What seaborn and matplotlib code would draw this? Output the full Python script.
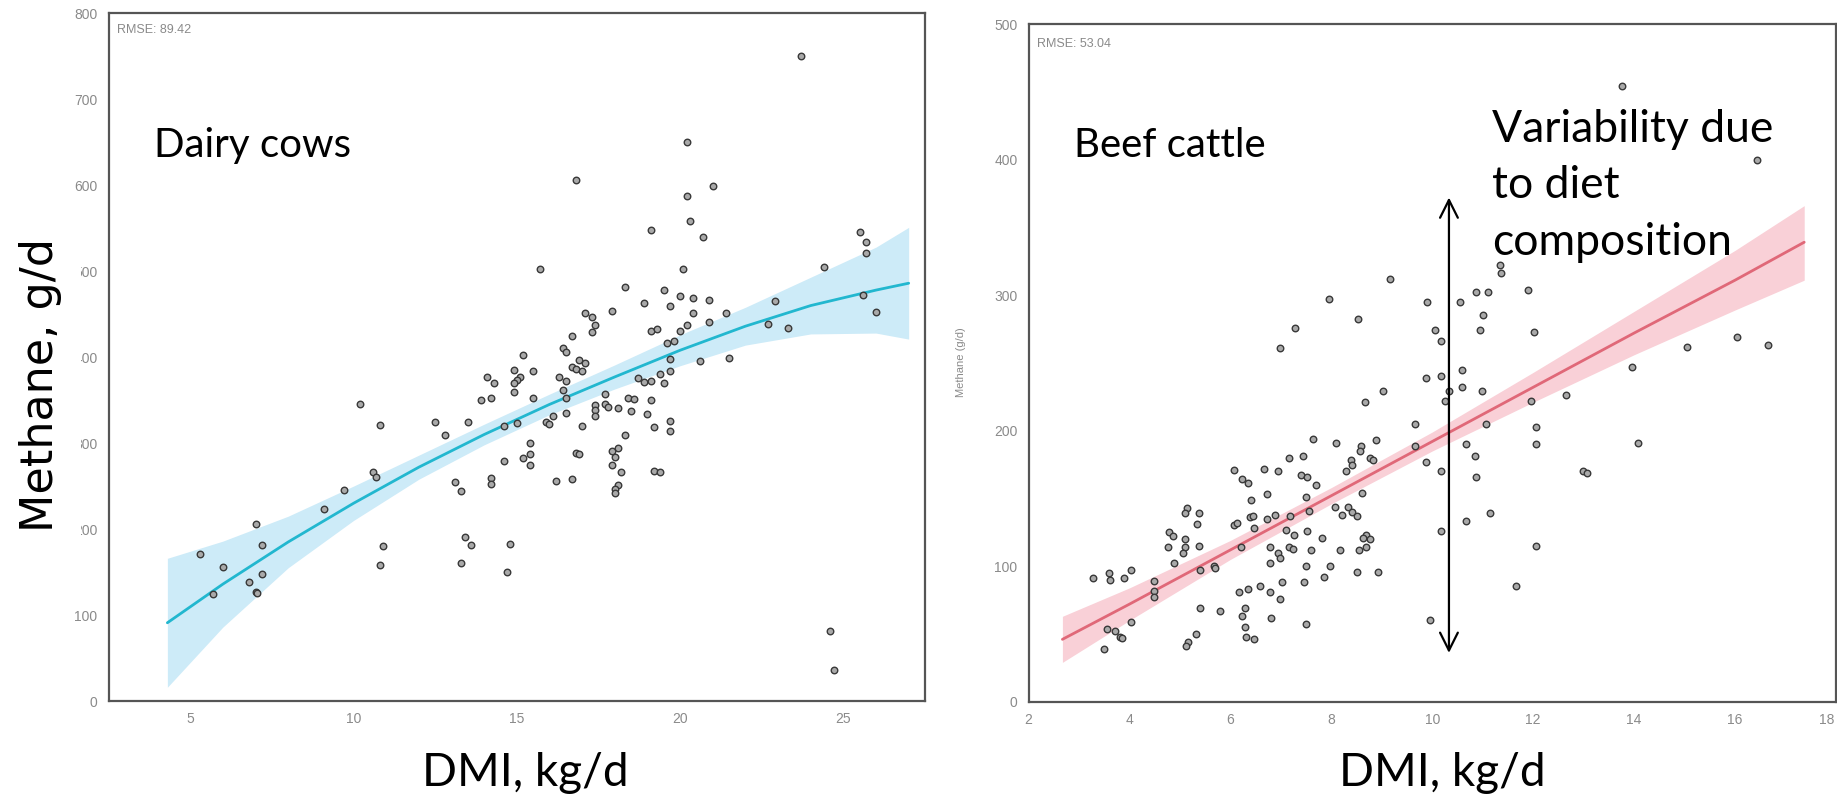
import matplotlib
matplotlib.use("Agg")
import matplotlib.pyplot as plt
from matplotlib.patches import Rectangle
from matplotlib.ticker import MultipleLocator
import seaborn as sns

# ---- dairy cows: DMI (kg/d) vs methane (g/d) ----
dairy_dmi = [10.2, 10.8, 12.5, 13.5, 12.8, 10.6, 10.7, 9.7, 9.1, 7.0, 7.2, 5.3, 6.0, 7.2, 6.8,
             5.7, 7.0, 7.05, 13.1, 13.3, 10.9, 10.8, 13.4, 13.6, 13.3,
             16.8, 20.2, 21.0, 20.3, 19.1, 20.7, 15.7, 20.1, 18.3, 19.5, 17.9, 18.9, 20.0, 20.4,
             20.9, 19.7, 20.4, 21.4, 20.9, 17.1, 17.3, 17.4, 17.3, 16.7, 19.1, 19.3, 20.2, 20.0,
             19.8, 19.6, 16.4, 16.5, 15.2, 16.9, 17.1, 16.7, 16.8, 17.0, 14.9, 15.5, 14.1, 14.3,
             15.1, 15.0, 14.9, 14.9, 16.3, 16.5, 16.4, 19.7, 20.6, 21.5, 19.7, 19.4, 19.5, 18.7,
             18.9, 19.1, 13.9, 14.2, 15.5, 16.5, 17.7, 14.6, 15.0, 15.9, 16.0, 16.1, 16.5, 17.0,
             17.4, 17.4, 17.4, 17.7, 17.8, 18.1, 18.4, 18.6, 19.1, 18.5, 19.0, 19.7, 19.2, 19.7,
             18.3, 15.4, 15.4, 15.2, 15.4, 14.6, 16.8, 16.9, 17.9, 18.1, 18.0, 17.9, 18.2, 19.2,
             19.4, 18.1, 18.0, 18.0, 16.2, 16.7, 14.2, 14.2, 14.8, 14.7,
             23.7, 20.2, 24.4, 25.5, 25.7, 25.7, 22.9, 22.7, 23.3, 25.6, 26.0, 24.6, 24.7]
dairy_ch4 = [346, 321, 324, 324, 310, 266, 260, 245, 223, 206, 182, 171, 156, 148, 138,
             125, 127, 126, 255, 244, 180, 158, 191, 181, 160,
             606, 588, 599, 558, 548, 540, 502, 502, 482, 478, 454, 463, 471, 469,
             467, 460, 451, 451, 441, 451, 447, 437, 429, 425, 431, 433, 437, 430,
             419, 416, 411, 406, 403, 397, 393, 388, 386, 384, 385, 384, 377, 370,
             377, 374, 370, 360, 377, 372, 362, 398, 396, 399, 384, 380, 370, 376,
             371, 372, 350, 353, 353, 353, 357, 320, 323, 324, 322, 332, 335, 320,
             344, 338, 332, 346, 342, 341, 353, 351, 350, 337, 334, 326, 319, 314,
             310, 300, 287, 283, 274, 279, 289, 287, 291, 294, 284, 275, 266, 268,
             266, 251, 247, 242, 256, 258, 259, 252, 183, 150,
             750, 650, 505, 546, 534, 521, 465, 439, 434, 472, 452, 81, 36]

dairy_fit_dmi = [4.3, 6, 8, 10, 12, 14, 16, 18, 20, 22, 24, 26, 27]
dairy_fit_ch4 = [91, 136, 185, 230, 272, 310, 345, 377, 408, 436, 460, 478, 486]
dairy_fit_lo = [16, 86, 155, 210, 258, 298, 333, 363, 390, 414, 427, 428, 421]
dairy_fit_hi = [166, 186, 215, 250, 286, 322, 357, 391, 426, 458, 493, 528, 551]

# ---- beef cattle ----
beef_dmi = [6.66, 6.94, 6.07, 6.22, 6.35, 6.40, 6.73, 5.14, 5.10, 5.37, 5.33, 6.07, 6.13, 6.38,
            6.45, 6.46, 6.73, 6.88, 4.79, 4.86, 4.77, 5.10, 5.10, 5.06, 5.37, 4.88, 5.39, 5.67,
            5.69, 6.20, 6.78, 6.94, 6.99, 6.78, 7.03, 6.58, 6.17, 6.35, 6.79, 6.99, 3.28, 3.60,
            3.61, 3.89, 4.02, 4.48, 4.48, 4.48, 5.39, 5.80, 6.28, 6.22, 6.81, 6.28, 6.30, 6.46,
            4.02, 3.56, 3.71, 3.82, 3.86, 3.49, 5.31, 5.16, 5.12,
            9.17, 7.95, 7.27, 8.53, 6.98, 9.90, 10.55, 10.86, 11.10, 11.00, 10.95, 10.05, 10.18,
            9.88, 10.18, 10.58, 10.58, 10.34, 10.26, 10.98, 9.02, 8.66, 9.66, 9.66, 9.88, 10.18,
            11.07, 10.67, 10.84, 10.86, 11.15, 10.67, 10.18, 9.96, 7.64, 8.10, 8.89, 8.59, 8.56,
            8.76, 8.82, 8.38, 8.40, 8.28, 7.16, 7.43, 7.39, 7.51, 7.70, 7.49, 7.56, 8.61, 8.07,
            8.33, 8.40, 8.50, 8.22, 7.18, 7.10, 7.26, 7.16, 7.24, 7.52, 7.82, 7.60, 8.18, 8.55,
            8.68, 8.68, 8.76, 8.63, 7.49, 7.98, 7.85, 8.50, 8.92, 7.45, 7.49,
            13.76, 16.43, 11.35, 11.37, 11.90, 12.02, 15.05, 16.03, 16.65, 13.95, 11.95, 12.65,
            12.05, 12.05, 14.07, 12.98, 13.06, 12.05, 11.66]
beef_ch4 = [172, 170, 171, 164, 161, 149, 153, 143, 139, 139, 131, 130, 132, 136,
            137, 128, 135, 138, 125, 122, 114, 120, 114, 110, 115, 102, 97, 100,
            99, 114, 114, 110, 106, 102, 88, 85, 81, 83, 81, 76, 91, 95,
            90, 91, 97, 89, 82, 77, 69, 67, 69, 63, 62, 55, 48, 46,
            59, 54, 52, 48, 47, 39, 50, 44, 41,
            312, 297, 276, 282, 261, 295, 295, 302, 302, 285, 274, 274, 266,
            239, 240, 245, 232, 229, 222, 229, 229, 221, 205, 189, 177, 170,
            205, 190, 181, 166, 139, 133, 126, 60, 194, 191, 193, 189, 185,
            180, 178, 178, 175, 170, 180, 181, 167, 166, 160, 151, 141, 154, 144,
            144, 140, 137, 138, 137, 127, 123, 114, 113, 126, 121, 112, 112, 112,
            114, 123, 120, 121, 100, 100, 92, 96, 96, 88, 57,
            454, 400, 322, 316, 304, 273, 262, 269, 263, 247, 222, 226,
            203, 190, 191, 170, 169, 115, 85]

beef_fit_dmi = [2.67, 4, 6, 8, 10, 12, 14, 16, 17.37]
beef_fit_ch4 = [46, 72, 112, 152, 192, 232, 272, 311, 339]
beef_fit_lo = [29, 60, 105, 146, 185, 221, 256, 289, 311]
beef_fit_hi = [63, 84, 119, 158, 199, 243, 288, 333, 366]

beef_xticks = [2, 4, 6, 8, 10, 12, 14, 16, 18]

variability_lines = ["Variability due", "to diet", "composition"]

W, H = 1837, 805
TICK_GREY = "#8a8a8a"


def draw_panel(ax, dmi, ch4, fit_x, fit_y, lo, hi, line_col, band_col):
    ax.fill_between(fit_x, lo, hi, color=band_col, lw=0, zorder=1)
    sns.lineplot(x=fit_x, y=fit_y, color=line_col, lw=2, ax=ax, zorder=2)
    sns.scatterplot(x=dmi, y=ch4, ax=ax, s=22, color="#a9a9a9",
                    edgecolor="#383838", linewidth=1.0, zorder=3)
    for sp in ax.spines.values():
        sp.set_visible(True)
        sp.set_color("#555555")
        sp.set_linewidth(1.6)
    ax.tick_params(which="both", direction="out", color="#555555",
                   labelcolor=TICK_GREY, labelsize=10, width=1.2, pad=2)
    ax.tick_params(which="major", length=6)
    ax.tick_params(which="minor", length=4)
    ax.set_xlabel("")
    ax.set_ylabel("")


sns.set_theme(style="white")
plt.rcParams["font.family"] = ["Liberation Sans", "DejaVu Sans"]

fig = plt.figure(figsize=(W / 100, H / 100), dpi=100)

# left panel: dairy cows
ax1 = fig.add_axes([108.6 / W, 1 - 701 / H, (925 - 108.6) / W, (701 - 13.3) / H])
draw_panel(ax1, dairy_dmi, dairy_ch4, dairy_fit_dmi, dairy_fit_ch4,
           dairy_fit_lo, dairy_fit_hi, "#22b7cf", "#cdebf8")
ax1.set_xlim(2.5, 27.5)
ax1.set_ylim(0, 800)
ax1.set_xticks([5, 10, 15, 20, 25])
ax1.xaxis.set_minor_locator(MultipleLocator(2.5))
ax1.set_yticks(range(0, 801, 100))
ax1.text(0.01, 0.985, "RMSE: 89.42", transform=ax1.transAxes, va="top",
         color=TICK_GREY, fontsize=9)

# right panel: beef cattle
ax2 = fig.add_axes([1028.6 / W, 1 - 701.7 / H, (W - 1 - 1028.6) / W, (701.7 - 24) / H])
draw_panel(ax2, beef_dmi, beef_ch4, beef_fit_dmi, beef_fit_ch4,
           beef_fit_lo, beef_fit_hi, "#e06878", "#f9d0d7")
ax2.set_xlim(2, 18)
ax2.set_ylim(0, 500)
# the last label sits on the figure edge, so it is placed right-aligned by hand
ax2.set_xticks(beef_xticks, labels=[str(v) for v in beef_xticks[:-1]] + [""])
ax2.annotate(str(beef_xticks[-1]), xy=(beef_xticks[-1], 0), xycoords="data",
             xytext=(-1, -8), textcoords="offset points", ha="right", va="top",
             color=TICK_GREY, fontsize=10, annotation_clip=False)
ax2.set_yticks(range(0, 501, 100))
ax2.yaxis.set_minor_locator(MultipleLocator(50))
ax2.text(0.01, 0.98, "RMSE: 53.04", transform=ax2.transAxes, va="top",
         color=TICK_GREY, fontsize=9)
ax2.annotate("", xy=(10.33, 36), xytext=(10.33, 372),
             arrowprops=dict(arrowstyle="<->", color="black", lw=1.6,
                             mutation_scale=32, shrinkA=0, shrinkB=0),
             zorder=6)

fig.text(961 / W, 1 - 362 / H, "Methane (g/d)", rotation=90, ha="center",
         va="center", color=TICK_GREY, fontsize=8)

# big overlay labels
big = ["Lato", "DejaVu Sans"]
fig.add_artist(Rectangle((0, 1 - 540 / H), 81 / W, 305 / H, transform=fig.transFigure,
                         facecolor="white", edgecolor="none", zorder=5))
fig.text(41 / W, 1 - 385 / H, "Methane, g/d", rotation=90, ha="center", va="center",
         fontsize=32, family=["DejaVu Sans"], color="black", zorder=6)
fig.text(525 / W, 1 - 773 / H, "DMI, kg/d", ha="center", va="center",
         fontsize=33, family=big, color="black")
fig.text(1442 / W, 1 - 773 / H, "DMI, kg/d", ha="center", va="center",
         fontsize=33, family=big, color="black")
fig.text(154 / W, 1 - 157 / H, "Dairy cows", ha="left", va="baseline",
         fontsize=29, family=big, color="black")
fig.text(1074 / W, 1 - 157 / H, "Beef cattle", ha="left", va="baseline",
         fontsize=29, family=big, color="black")
for i, line in enumerate(variability_lines):
    fig.text(1492 / W, 1 - (141.7 + 56.7 * i) / H, line, ha="left", va="baseline",
             fontsize=32, family=big, color="black")

fig.savefig("out.png", dpi=100)
